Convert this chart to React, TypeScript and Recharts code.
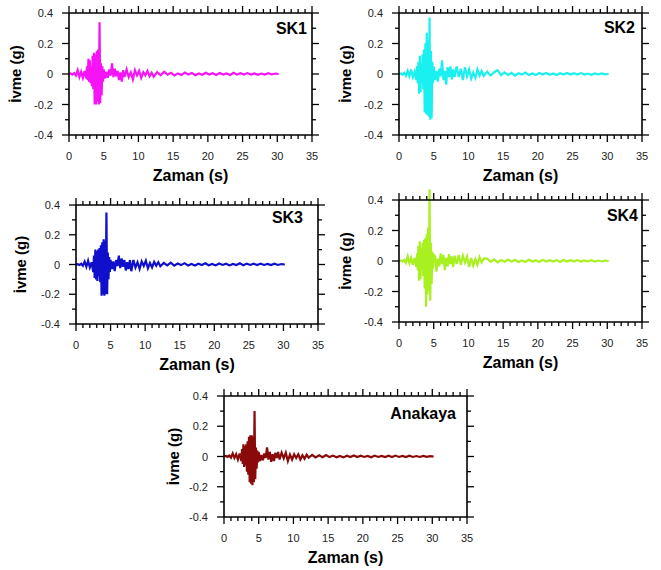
import React from 'react';
import { LineChart, Line, XAxis, YAxis } from 'recharts';

// time samples (s)
const time = [
  0, 0.25, 0.5, 0.75, 1, 1.25, 1.5, 1.75, 2, 2.25,
  2.5, 2.6, 2.7, 2.8, 2.9, 3, 3.1, 3.2, 3.3, 3.4, 3.5, 3.6, 3.7, 3.8, 3.9, 4, 4.1, 4.2, 4.3, 4.4, 4.5, 4.6, 4.7, 4.8, 4.9, 5,
  5.2, 5.4, 5.6, 5.8, 6, 6.2, 6.4, 6.6, 6.8, 7, 7.2, 7.4, 7.6, 7.8, 8,
  8.3, 8.6, 8.9, 9.2, 9.5, 9.8, 10.1, 10.4, 10.7, 11, 11.3, 11.6, 11.9, 12.2,
  12.7, 13.2, 13.7, 14.2, 14.7, 15.2, 15.7, 16.2, 16.7, 17.2, 17.7, 18.2, 18.7, 19.2, 19.7, 20.2, 20.7, 21.2,
  21.7, 22.2, 22.7, 23.2, 23.7, 24.2, 24.7, 25.2, 25.7, 26.2, 26.7, 27.2, 27.7, 28.2, 28.7, 29.2, 29.7, 30.2,
];

// acceleration (g)
const sk1 = [
  0, 0.003, -0.004, 0.006, -0.01, 0.025, -0.02, 0.015, -0.025, 0.02,
  -0.03, 0.05, -0.04, 0.1, -0.05, 0.09, -0.06, 0.05, -0.08, 0.12, -0.1, 0.14, -0.2, 0.13, -0.2, 0.15, -0.18, 0.16, -0.2, 0.34, -0.19, 0.07, -0.14, 0.05, -0.05, 0.03,
  -0.03, 0.015, -0.025, 0.03, -0.01, 0.07, -0.02, 0.035, -0.015, 0.02, -0.04, 0.01, -0.05, 0.025, -0.02,
  0.03, -0.02, 0.01, -0.035, 0.025, -0.01, 0.02, -0.025, 0.012, -0.008, 0.02, -0.015, 0.008, -0.018,
  0.012, -0.008, 0.015, -0.004, 0.008, -0.01, 0.004, -0.006, 0.01, -0.004, 0.006, -0.008, 0.003, -0.005, 0.008, -0.003, 0.005, -0.006,
  0.007, -0.003, 0.004, -0.006, 0.008, -0.004, 0.005, -0.003, 0.006, -0.004, 0.004, -0.005, 0.003, -0.004, 0.005, -0.003, 0.003, 0,
];

const sk2 = [
  0, 0.004, -0.005, 0.008, -0.012, 0.02, -0.015, 0.03, -0.02, 0.015,
  -0.04, 0.05, -0.06, 0.08, -0.13, 0.12, -0.12, 0.07, -0.06, 0.13, -0.1, 0.16, -0.25, 0.2, -0.26, 0.27, -0.27, 0.22, -0.28, 0.37, -0.3, 0.15, -0.29, 0.08, -0.06, 0.05,
  -0.04, 0.02, -0.05, 0.035, -0.015, 0.09, -0.04, 0.02, -0.07, 0.045, -0.02, 0.05, -0.035, 0.03, -0.02,
  0.05, -0.02, 0.035, -0.04, 0.045, -0.015, 0.03, -0.03, 0.01, -0.025, 0.03, -0.01, 0.02, -0.012,
  0.015, -0.01, 0.012, 0.025, -0.008, 0.01, -0.006, 0.008, -0.01, 0.005, -0.004, 0.009, -0.006, 0.004, -0.007, 0.006, -0.003, 0.007,
  -0.005, 0.004, -0.006, 0.005, -0.003, 0.007, -0.004, 0.005, -0.003, 0.006, -0.004, 0.003, -0.005, 0.004, -0.003, 0.004, -0.002, 0,
];

const sk3 = [
  0, 0.002, -0.003, 0.005, -0.008, 0.02, -0.015, 0.025, -0.02, 0.015,
  -0.05, 0.06, -0.09, 0.1, -0.1, 0.09, -0.11, 0.1, -0.08, 0.11, -0.12, 0.13, -0.21, 0.15, -0.2, 0.17, -0.21, 0.16, -0.2, 0.35, -0.2, 0.08, -0.1, 0.05, -0.05, 0.03,
  -0.03, 0.02, -0.045, 0.03, -0.01, 0.06, -0.025, 0.04, -0.015, 0.03, -0.04, 0.015, -0.03, 0.03, -0.045,
  0.03, -0.02, 0.015, -0.03, 0.02, -0.01, 0.025, -0.025, 0.01, -0.02, 0.018, -0.008, 0.015, -0.012,
  0.01, -0.006, 0.012, -0.008, 0.006, -0.004, 0.009, -0.006, 0.004, -0.007, 0.005, -0.003, 0.008, -0.005, 0.004, -0.006, 0.007, -0.003,
  0.005, -0.006, 0.004, -0.004, 0.008, -0.005, 0.006, -0.003, 0.005, -0.004, 0.006, -0.003, 0.004, -0.004, 0.005, -0.003, 0.003, 0,
];

const sk4 = [
  0, 0.004, -0.004, 0.008, -0.012, 0.03, -0.015, 0.02, -0.025, 0.02,
  -0.04, 0.05, -0.06, 0.1, -0.13, 0.13, -0.12, 0.08, -0.06, 0.12, -0.1, 0.14, -0.18, 0.15, -0.3, 0.18, -0.22, 0.22, -0.2, 0.47, -0.26, 0.12, -0.15, 0.06, -0.05, 0.04,
  0.03, -0.07, 0.015, -0.035, 0.05, -0.02, 0.04, -0.06, 0.02, -0.035, 0.045, -0.02, 0.03, -0.04, 0.035,
  -0.02, 0.04, -0.025, 0.035, -0.01, 0.03, -0.04, 0.02, -0.03, 0.012, -0.025, 0.025, -0.01, 0.015,
  0.015, -0.006, 0.01, -0.009, 0.007, -0.005, 0.01, -0.004, 0.006, -0.007, 0.004, -0.006, 0.008, -0.003, 0.005, -0.006, 0.008, -0.004,
  0.005, -0.003, 0.006, -0.006, 0.007, -0.003, 0.005, -0.004, 0.006, -0.004, 0.004, -0.003, 0.005, -0.004, 0.003, -0.003, 0.003, 0,
];

const anakaya = [
  0, 0.003, -0.003, 0.006, -0.008, 0.02, -0.01, 0.015, -0.02, 0.02,
  -0.03, 0.05, -0.05, 0.08, -0.07, 0.07, -0.06, 0.08, -0.1, 0.1, -0.12, 0.13, -0.17, 0.14, -0.18, 0.14, -0.19, 0.13, -0.17, 0.3, -0.15, 0.06, -0.08, 0.04, -0.04, 0.03,
  -0.03, 0.01, -0.025, 0.02, -0.01, 0.06, -0.02, 0.03, -0.035, 0.015, -0.03, 0.025, -0.01, 0.03, -0.02,
  0.025, -0.012, 0.025, -0.03, 0.012, -0.02, 0.015, -0.01, 0.015, -0.02, 0.008, -0.015, 0.012, -0.008,
  0.01, -0.006, 0.008, -0.005, 0.01, -0.004, 0.006, -0.005, 0.004, -0.006, 0.005, -0.003, 0.007, -0.004, 0.005, -0.003, 0.004, -0.005,
  0.006, -0.003, 0.004, -0.004, 0.005, -0.003, 0.006, -0.003, 0.004, -0.004, 0.005, -0.003, 0.003, -0.003, 0.004, -0.002, 0.002, 0,
];

const xTicks = [0, 1, 2, 3, 4, 5, 6, 7, 8, 9, 10, 11, 12, 13, 14, 15, 16, 17, 18, 19, 20, 21, 22, 23, 24, 25, 26, 27, 28, 29, 30, 31, 32, 33, 34, 35];
const xLabels = [0, 5, 10, 15, 20, 25, 30, 35];
const yTicks = [-0.4, -0.3, -0.2, -0.1, 0, 0.1, 0.2, 0.3, 0.4];
const yLabels = [-0.4, -0.2, 0, 0.2, 0.4];

const xTitle = 'Zaman (s)';
const yTitle = 'İvme (g)';
const names = ['SK1', 'SK2', 'SK3', 'SK4', 'Anakaya'];
const keys = ['sk1', 'sk2', 'sk3', 'sk4', 'anakaya'];
const colors = ['#f614f6', '#1af0f0', '#1010cc', '#a8f020', '#8a0a0a'];

const rows = time.map((t, i) => ({
  t,
  sk1: sk1[i],
  sk2: sk2[i],
  sk3: sk3[i],
  sk4: sk4[i],
  anakaya: anakaya[i],
}));

// layout (page coords of plot area)
const layout = [
  { L: 69, T: 13, W: 243, H: 122, yGap: 54, nameInset: 5, nameDy: 15 },
  { L: 399, T: 13, W: 243, H: 122, yGap: 54, nameInset: 7, nameDy: 14 },
  { L: 76, T: 205, W: 242, H: 119, yGap: 56, nameInset: 15, nameDy: 12 },
  { L: 399, T: 200, W: 243, H: 122, yGap: 54, nameInset: 4, nameDy: 15 },
  { L: 224, T: 396, W: 243, H: 121, yGap: 51, nameInset: 11, nameDy: 17 },
];

const FONT = '"Liberation Sans", Arial, Helvetica, sans-serif';
const LEFT_W = 69;
const RIGHT_W = 20;
const TOP_H = 13;
const BOTTOM_H = 50;

const isMajorX = (v: number) => xLabels.includes(v);
const isMajorY = (v: number) => yLabels.some((l) => Math.abs(l - v) < 1e-9);

const BottomTick = (p: any) => {
  const x = Number(p.x);
  const y = Number(p.y);
  const major = isMajorX(p.payload.value);
  return (
    <g className="tk">
      <path d={`M${x},${y}L${x},${y + (major ? 7 : 4)}`} stroke="#000" strokeWidth={1.3} fill="none" />
      {major && (
        <text x={x} y={y + 25} textAnchor="middle" fontSize={11} fill="#222" fontFamily={FONT}>
          {p.payload.value}
        </text>
      )}
    </g>
  );
};

const TopTick = (p: any) => {
  const x = Number(p.x);
  const y = Number(p.y);
  const major = isMajorX(p.payload.value);
  return (
    <g className="tk">
      <path d={`M${x},${y}L${x},${y - (major ? 7 : 4)}`} stroke="#000" strokeWidth={1.3} fill="none" />
    </g>
  );
};

const LeftTick = (p: any) => {
  const x = Number(p.x);
  const y = Number(p.y);
  const major = isMajorY(p.payload.value);
  return (
    <g className="tk">
      <path d={`M${x},${y}L${x - (major ? 7 : 4)},${y}`} stroke="#000" strokeWidth={1.3} fill="none" />
      {major && (
        <text x={x - 16} y={y + 4} textAnchor="end" fontSize={11} fill="#222" fontFamily={FONT}>
          {String(p.payload.value)}
        </text>
      )}
    </g>
  );
};

const RightTick = (p: any) => {
  const x = Number(p.x);
  const y = Number(p.y);
  const major = isMajorY(p.payload.value);
  return (
    <g className="tk">
      <path d={`M${x},${y}L${x + (major ? 7 : 4)},${y}`} stroke="#000" strokeWidth={1.3} fill="none" />
    </g>
  );
};

const axisLine = { stroke: '#000', strokeWidth: 1.6 };

function Panel({ idx }: { idx: number }) {
  const g = layout[idx];
  const width = LEFT_W + g.W + RIGHT_W;
  const height = TOP_H + g.H + BOTTOM_H;
  return (
    <div style={{ position: 'absolute', left: g.L - LEFT_W, top: g.T - TOP_H, width, height }}>
      <LineChart width={width} height={height} data={rows} margin={{ top: 0, right: 0, bottom: 0, left: 0 }}>
        <XAxis
          xAxisId="bottom"
          dataKey="t"
          type="number"
          domain={[0, 35]}
          allowDataOverflow
          ticks={xTicks}
          interval={0}
          tickSize={0}
          tickMargin={0}
          tick={(p: any) => <BottomTick {...p} />}
          axisLine={axisLine}
          height={BOTTOM_H}
          label={(p: any) => {
            const vb = p.viewBox;
            return (
              <text
                x={vb.x + vb.width / 2}
                y={vb.y + 46}
                textAnchor="middle"
                fontSize={16}
                fontWeight="bold"
                fill="#000"
                fontFamily={FONT}
              >
                {xTitle}
              </text>
            );
          }}
        />
        <XAxis
          xAxisId="top"
          orientation="top"
          dataKey="t"
          type="number"
          domain={[0, 35]}
          allowDataOverflow
          ticks={xTicks}
          interval={0}
          tickSize={0}
          tickMargin={0}
          tick={(p: any) => <TopTick {...p} />}
          axisLine={axisLine}
          height={TOP_H}
        />
        <YAxis
          yAxisId="left"
          type="number"
          domain={[-0.4, 0.4]}
          allowDataOverflow
          ticks={yTicks}
          interval={0}
          tickSize={0}
          tickMargin={0}
          tick={(p: any) => <LeftTick {...p} />}
          axisLine={axisLine}
          width={LEFT_W}
          label={(p: any) => {
            const vb = p.viewBox;
            const cx = vb.x + vb.width - g.yGap;
            const cy = vb.y + vb.height / 2;
            return (
              <text
                x={cx}
                y={cy}
                transform={`rotate(-90 ${cx} ${cy})`}
                textAnchor="middle"
                dominantBaseline="central"
                fontSize={15}
                fontWeight="bold"
                fill="#000"
                fontFamily={FONT}
              >
                {yTitle}
              </text>
            );
          }}
        />
        <YAxis
          yAxisId="right"
          orientation="right"
          type="number"
          domain={[-0.4, 0.4]}
          allowDataOverflow
          ticks={yTicks}
          interval={0}
          tickSize={0}
          tickMargin={0}
          tick={(p: any) => <RightTick {...p} />}
          axisLine={axisLine}
          width={RIGHT_W}
          label={(p: any) => {
            const vb = p.viewBox;
            return (
              <text
                x={vb.x - g.nameInset}
                y={vb.y + g.nameDy + 6}
                textAnchor="end"
                fontSize={16}
                fontWeight="bold"
                fill="#000"
                fontFamily={FONT}
              >
                {names[idx]}
              </text>
            );
          }}
        />
        <Line
          xAxisId="bottom"
          yAxisId="left"
          type="linear"
          dataKey={keys[idx]}
          stroke={colors[idx]}
          strokeWidth={2.2}
          dot={false}
          activeDot={false}
          isAnimationActive={false}
        />
      </LineChart>
    </div>
  );
}

export default function App() {
  return (
    <div style={{ position: 'absolute', left: 0, top: 0, width: 661, height: 570, background: '#fff', fontFamily: FONT }}>
      <style>
        {'.recharts-wrapper [clip-path]{clip-path:none !important;} .recharts-surface{overflow:visible;} .tk path{stroke:#000 !important;stroke-width:1.3px !important;}'}
      </style>
      {names.map((n, i) => (
        <Panel key={n} idx={i} />
      ))}
    </div>
  );
}
